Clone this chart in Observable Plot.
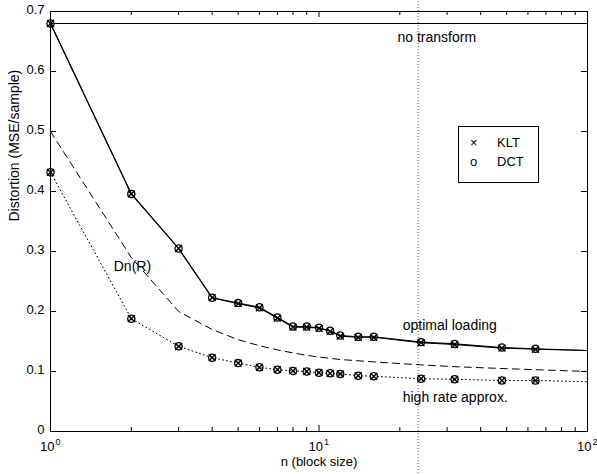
<!DOCTYPE html>
<html><head><meta charset="utf-8">
<script src="https://cdn.jsdelivr.net/npm/d3@7"></script>
<script src="https://cdn.jsdelivr.net/npm/@observablehq/plot@0.6"></script>
<style>
body{margin:0;background:#fff;font-family:"Liberation Sans",Arial,sans-serif;}
#wrap{position:relative;width:597px;height:474px;overflow:hidden;}
#legend{position:absolute;left:458px;top:126px;width:81px;height:57px;border:1px solid #000;box-sizing:border-box;background:#fff;font-size:13px;color:#000;}
#legend span{position:absolute;line-height:14px;}
</style></head><body><div id="wrap"></div>
<script>
// block sizes n with markers
const blockSize = [1, 2, 3, 4, 5, 6, 7, 8, 9, 10, 11, 12, 14, 16, 24, 32, 48, 64];
// optimal loading distortion (solid)
const kltOptimal = [0.680, 0.396, 0.305, 0.223, 0.213, 0.206, 0.189, 0.174, 0.174, 0.172, 0.167, 0.159, 0.157, 0.157, 0.148, 0.145, 0.139, 0.137];
const dctOptimal = [0.680, 0.396, 0.305, 0.223, 0.214, 0.207, 0.190, 0.175, 0.175, 0.173, 0.168, 0.160, 0.158, 0.158, 0.149, 0.146, 0.140, 0.138];
// high rate approximation (dotted)
const kltHighRate = [0.432, 0.188, 0.142, 0.123, 0.114, 0.107, 0.103, 0.101, 0.100, 0.098, 0.097, 0.096, 0.093, 0.092, 0.088, 0.087, 0.085, 0.085];
const dctHighRate = [0.432, 0.188, 0.142, 0.123, 0.114, 0.107, 0.103, 0.101, 0.100, 0.098, 0.097, 0.096, 0.093, 0.092, 0.088, 0.087, 0.085, 0.085];
// curve ends at n = 100
const tailN = 100;
const optimalTail = 0.135;
const highRateTail = 0.083;
// Dn(R) (dashed)
const dnN = [1, 2, 3, 4, 5, 6, 7, 8, 9, 10, 12, 16, 24, 32, 48, 64, 100];
const dnR = [0.500, 0.290, 0.200, 0.170, 0.153, 0.143, 0.136, 0.131, 0.127, 0.124, 0.120, 0.116, 0.111, 0.108, 0.105, 0.103, 0.100];
// no transform level
const noTransform = [0.68];
// scan fold line
const foldLine = [23.4];
// ticks
const yTicks = [0, 0.1, 0.2, 0.3, 0.4, 0.5, 0.6, 0.7];
const yTickLabels = ["0", "0.1", "0.2", "0.3", "0.4", "0.5", "0.6", "0.7"];
const xMajor = [1, 10, 100];
const xExp = ["0", "1", "2"];
const xMinor = [2, 3, 4, 5, 6, 7, 8, 9, 20, 30, 40, 50, 60, 70, 80, 90];
// annotations
const notes = [
  {n: 19.6, v: 0.657, label: "no transform"},
  {n: 1.72, v: 0.275, label: "Dn(R)"},
  {n: 20.5, v: 0.177, label: "optimal loading"},
  {n: 20.5, v: 0.057, label: "high rate approx."}
];

const W = 597, H = 474, mL = 50, mR = 10, mT = 11, mB = 43;
const fw = W - mL - mR, fh = H - mT - mB;

const pts = (xs, ys) => xs.map((n, i) => ({n, v: ys[i]}));
const optK = pts(blockSize, kltOptimal).concat([{n: tailN, v: optimalTail}]);
const optD = pts(blockSize, dctOptimal).concat([{n: tailN, v: optimalTail}]);
const hrK = pts(blockSize, kltHighRate).concat([{n: tailN, v: highRateTail}]);
const dn = pts(dnN, dnR);
const mkK = pts(blockSize, kltOptimal).concat(pts(blockSize, kltHighRate));
const mkD = pts(blockSize, dctOptimal).concat(pts(blockSize, dctHighRate));

const chart = Plot.plot({
  width: W, height: H,
  marginLeft: mL, marginRight: mR, marginTop: mT, marginBottom: mB,
  style: {fontFamily: "'Liberation Sans', Arial, sans-serif", fontSize: "13px", background: "#fff", color: "#000", overflow: "visible"},
  x: {type: "log", domain: [1, 100], axis: null},
  y: {domain: [0, 0.7], axis: null},
  marks: [
    Plot.ruleX(foldLine, {x: d => d, y1: -0.1, y2: 0.72, stroke: "#333", strokeWidth: 0.8, strokeDasharray: "1,2"}),
    Plot.frame({stroke: "#000", strokeWidth: 1}),
    Plot.tickX(xMajor, {x: d => d, insetTop: fh - 6, stroke: "#000"}),
    Plot.tickX(xMajor, {x: d => d, insetBottom: fh - 6, stroke: "#000"}),
    Plot.tickX(xMinor, {x: d => d, insetTop: fh - 4, stroke: "#000"}),
    Plot.tickX(xMinor, {x: d => d, insetBottom: fh - 4, stroke: "#000"}),
    Plot.tickY(yTicks, {y: d => d, insetRight: fw - 6, stroke: "#000"}),
    Plot.tickY(yTicks, {y: d => d, insetLeft: fw - 6, stroke: "#000"}),
    Plot.text(yTicks, {y: d => d, frameAnchor: "left", text: (d, i) => yTickLabels[i], textAnchor: "end", dx: -6, dy: -2, fontSize: 13}),
    Plot.text(xMajor, {x: d => d, frameAnchor: "bottom", text: () => "10", textAnchor: "end", dx: 4, dy: 19, fontSize: 13}),
    Plot.text(xMajor, {x: d => d, frameAnchor: "bottom", text: (d, i) => xExp[i], textAnchor: "start", dx: 5, dy: 13, fontSize: 9}),
    Plot.text(["n (block size)"], {frameAnchor: "bottom", dy: 34, fontSize: 13}),
    Plot.text(["Distortion (MSE/sample)"], {frameAnchor: "left", rotate: -90, dx: -36, fontSize: 14}),
    Plot.ruleY(noTransform, {y: d => d, stroke: "#000", strokeWidth: 1.2}),
    Plot.line(dn, {x: "n", y: "v", stroke: "#000", strokeWidth: 1, strokeDasharray: "7,5"}),
    Plot.line(hrK, {x: "n", y: "v", stroke: "#000", strokeWidth: 1, strokeDasharray: "1,3"}),
    Plot.line(optK, {x: "n", y: "v", stroke: "#000", strokeWidth: 1.1}),
    Plot.line(optD, {x: "n", y: "v", stroke: "#000", strokeWidth: 1.1}),
    Plot.dot(mkK, {x: "n", y: "v", symbol: "times", r: 3.2, stroke: "#000", strokeWidth: 1.4}),
    Plot.dot(mkD, {x: "n", y: "v", symbol: "circle", r: 3.6, stroke: "#000", strokeWidth: 1.3}),
    Plot.text(notes, {x: "n", y: "v", text: "label", textAnchor: "start", fontSize: 14})
  ]
});
const wrap = document.getElementById("wrap");
wrap.appendChild(chart);
const legend = document.createElement("div");
legend.id = "legend";
legend.innerHTML = '<span style="left:11px;top:9px">×</span><span style="left:38px;top:9px">KLT</span>' +
  '<span style="left:11px;top:28px">o</span><span style="left:38px;top:28px">DCT</span>';
wrap.appendChild(legend);
</script>
</body></html>
